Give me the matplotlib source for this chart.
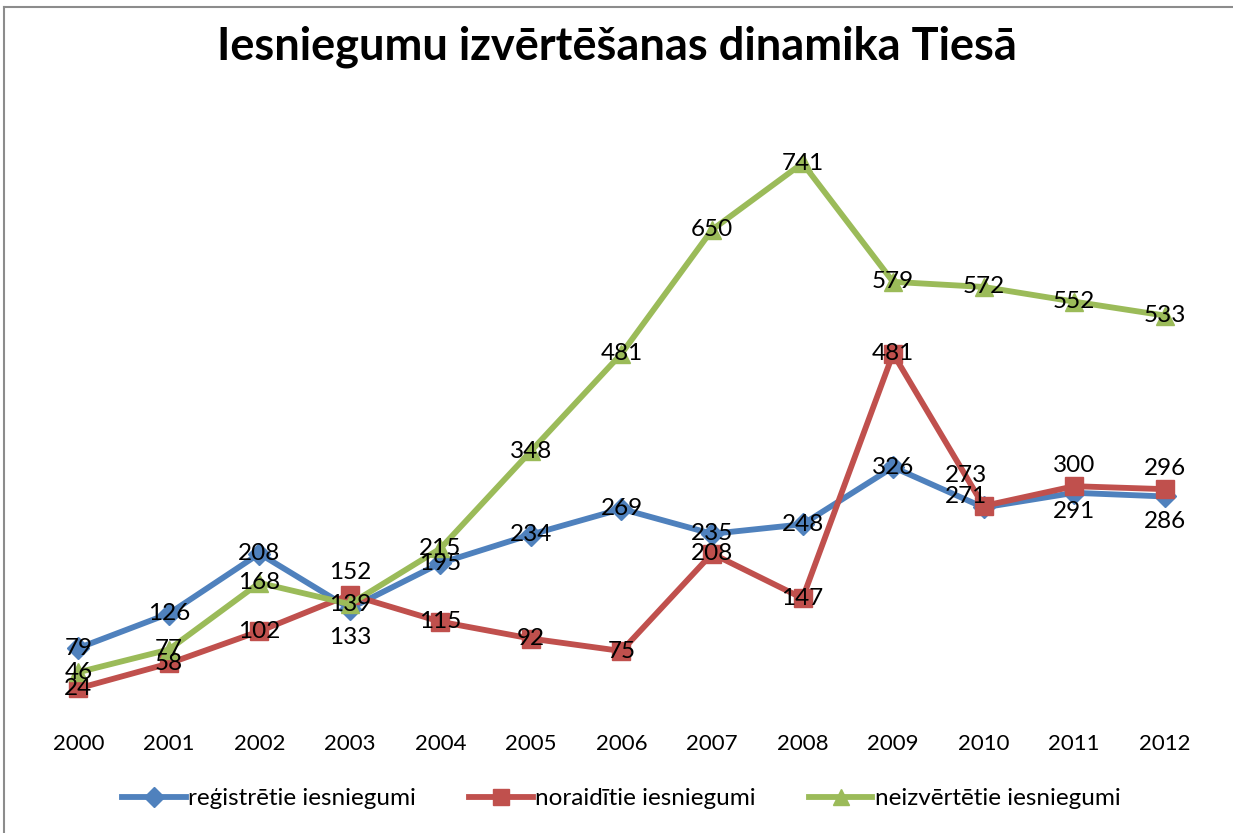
import matplotlib.pyplot as plt
from matplotlib.lines import Line2D

YEARS = ["2000", "2001", "2002", "2003", "2004", "2005", "2006",
         "2007", "2008", "2009", "2010", "2011", "2012"]
REGISTERED = [79, 126, 208, 133, 195, 234, 269, 235, 248, 326, 271, 291, 286]
REJECTED = [24, 58, 102, 152, 115, 92, 75, 208, 147, 481, 273, 300, 296]
UNEVALUATED = [46, 77, 168, 139, 215, 348, 481, 650, 741, 579, 572, 552, 533]

TITLE = "Iesniegumu izvērtēšanas dinamika Tiesā"
LABELS = ["reģistrētie iesniegumi", "noraidītie iesniegumi", "neizvērtētie iesniegumi"]

# label nudges in pixels (series index, point index) -> (dx, dy)
NUDGE = {
    (0, 3): (0, -29), (1, 3): (0, 22),
    (0, 10): (-18, 11), (1, 10): (-18, 30),
    (0, 11): (0, -19), (1, 11): (0, 21),
    (0, 12): (0, -25), (1, 12): (0, 21),
}

plt.rcParams["font.family"] = ["Lato", "DejaVu Sans"]

fig = plt.figure(figsize=(12.33, 8.33), dpi=100)
ax = fig.add_axes([0.0268, 0.1525, 0.9545, 0.7035])

series = [
    (REGISTERED, "#4F81BD", "D", 11),
    (REJECTED, "#C0504D", "s", 13),
    (UNEVALUATED, "#9BBB59", "^", 13),
]
x = list(range(len(YEARS)))
for si, (vals, color, marker, ms) in enumerate(series):
    ax.plot(x, vals, color=color, lw=4.2, marker=marker, ms=ms,
            markeredgecolor=color, label=LABELS[si], solid_joinstyle="round")
for si, (vals, color, marker, ms) in enumerate(series):
    for i, v in enumerate(vals):
        dx, dy = NUDGE.get((si, i), (0, 0))
        ax.annotate(str(v), (i, v), xytext=(dx, dy), textcoords="offset pixels",
                    ha="center", va="center", fontsize=17.5, color="black")

ax.set_xlim(-0.5, len(YEARS) - 0.5)
ax.set_ylim(0, 800)
ax.set_xticks(x)
ax.set_xticklabels(YEARS, fontsize=16)
ax.set_yticks([])
ax.tick_params(axis="x", length=0, pad=20)
for s in ax.spines.values():
    s.set_visible(False)

fig.text(0.5, 0.944, TITLE, ha="center", va="center", fontsize=32.5, fontweight="bold")

ax.legend(loc="center", bbox_to_anchor=(0.5, -0.158), ncol=3, frameon=False,
          fontsize=17.5, handlelength=2.6, handletextpad=0.1, columnspacing=2.2,
          markerscale=0.9)

# outer chart frame (only top and left edges are inside the picture)
fig.add_artist(Line2D([3.5 / 1233, 3.5 / 1233], [0, 1 - 6.5 / 833],
                      transform=fig.transFigure, color="#8c8c8c", lw=1.5))
fig.add_artist(Line2D([3.5 / 1233, 1], [1 - 6.5 / 833, 1 - 6.5 / 833],
                      transform=fig.transFigure, color="#8c8c8c", lw=1.5))

fig.savefig("out.png", dpi=100)
